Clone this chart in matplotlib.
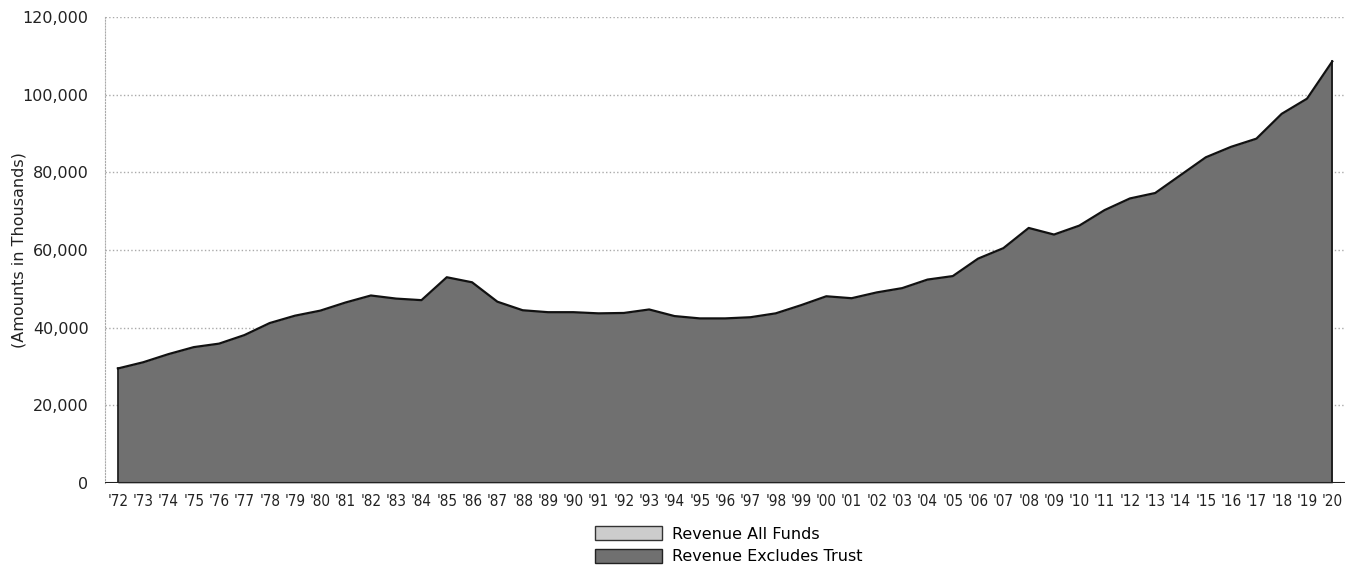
import matplotlib.pyplot as plt
from matplotlib.patches import Patch
from matplotlib.ticker import FuncFormatter

years = ["'72", "'73", "'74", "'75", "'76", "'77", "'78", "'79", "'80", "'81",
         "'82", "'83", "'84", "'85", "'86", "'87", "'88", "'89", "'90", "'91",
         "'92", "'93", "'94", "'95", "'96", "'97", "'98", "'99", "'00", "'01",
         "'02", "'03", "'04", "'05", "'06", "'07", "'08", "'09", "'10", "'11",
         "'12", "'13", "'14", "'15", "'16", "'17", "'18", "'19", "'20"]

# revenue excluding trust funds (thousands)
excl_trust = [29500, 31100, 33200, 35000, 35900, 38100, 41200, 43100, 44400, 46500,
              48300, 47500, 47100, 53000, 51700, 46700, 44500, 44000, 44000, 43700,
              43800, 44700, 43000, 42400, 42400, 42700, 43700, 45800, 48100, 47600,
              49100, 50200, 52400, 53300, 57800, 60500, 65700, 64000, 66300, 70300,
              73300, 74700, 79300, 83900, 86600, 88700, 95100, 99000, 108600]

legend_labels = ["Revenue All Funds", "Revenue Excludes Trust"]

fig = plt.figure(figsize=(13.49, 5.72), dpi=100)
ax = fig.add_axes([0.078, 0.1556, 0.919, 0.8144])

x = range(len(years))
ax.fill_between(x, excl_trust, 0, color='#707070', lw=0, zorder=2)
ax.plot(x, excl_trust, color='#111111', lw=1.6, zorder=3)
ax.plot([0, 0], [0, excl_trust[0]], color='#111111', lw=1.2, zorder=3)
ax.plot([len(years) - 1, len(years) - 1], [0, excl_trust[-1]], color='#111111', lw=1.2, zorder=3)
ax.axhline(0, color='#222222', lw=1.5, zorder=4)

ax.set_xlim(-0.5, len(years) - 0.5)
ax.set_ylim(0, 120000)
ax.set_yticks(range(0, 120001, 20000))
ax.yaxis.set_major_formatter(FuncFormatter(lambda v, p: f'{int(v):,}'))
ax.set_xticks(list(x))
ax.set_xticklabels(years, fontsize=11, fontstretch='condensed')
ax.tick_params(axis='y', labelsize=11.5, length=0, pad=12, colors='#222222')
ax.tick_params(axis='x', length=0, pad=8, colors='#222222')

ax.grid(axis='y', color='#aaaaaa', ls=':', lw=1, zorder=0)
for s in ['top', 'right', 'bottom']:
    ax.spines[s].set_visible(False)
ax.spines['left'].set_color('#aaaaaa')
ax.spines['left'].set_linestyle(':')

fig.text(0.014, 0.563, '(Amounts in Thousands)', rotation=90, fontsize=11.5,
         color='#222222', ha='center', va='center')

handles = [Patch(facecolor='#cccccc', edgecolor='#333333', lw=1),
           Patch(facecolor='#707070', edgecolor='#222222', lw=1)]
fig.legend(handles, legend_labels, loc='lower center', bbox_to_anchor=(0.54, -0.012),
           frameon=False, fontsize=11.5, handlelength=4.2, handleheight=1.0,
           labelspacing=0.45, handletextpad=0.6)

plt.savefig('out.png', dpi=100)
